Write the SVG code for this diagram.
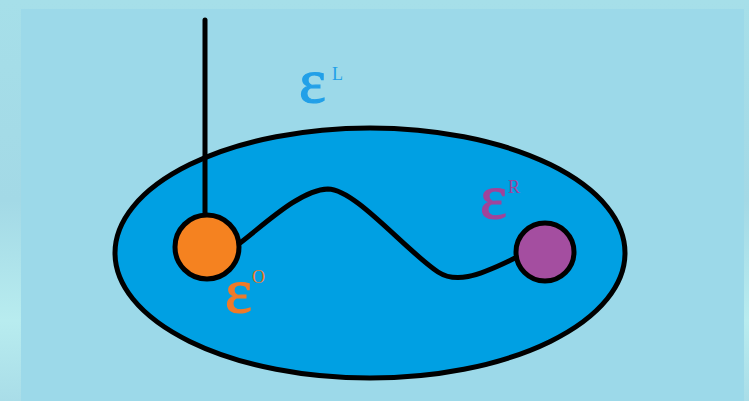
<svg xmlns="http://www.w3.org/2000/svg" width="749" height="401" viewBox="0 0 749 401">
<defs>
<style>
.eps{font-family:"Liberation Serif","Times New Roman",serif;font-size:64px;stroke-width:1.2}
.sup{font-family:"Liberation Serif","Times New Roman",serif;font-size:18px}
.ln{fill:none;stroke:#000;stroke-width:5;stroke-linecap:round;stroke-linejoin:round}
</style>
<linearGradient id="bg" x1="0" y1="0" x2="0" y2="1">
<stop offset="0" stop-color="#a6dfe9"/>
<stop offset="0.5" stop-color="#a3d9e6"/>
<stop offset="0.8" stop-color="#b8ecef"/>
<stop offset="1" stop-color="#a9dde8"/>
</linearGradient>
</defs>
<rect x="0" y="0" width="749" height="401" fill="url(#bg)"/>
<rect x="21" y="9" width="723" height="392" fill="#9cd9e9"/>
<g id="container">
<ellipse cx="370" cy="253" rx="255" ry="125" fill="#00a0e3" stroke="#000" stroke-width="5"/>
<text x="299" y="102" class="eps" fill="#22a0e8" stroke="#22a0e8">ε</text>
<text x="332" y="80" class="sup" fill="#22a0e8">L</text>
</g>
<g id="connectors">
<line class="ln" x1="205" y1="20" x2="205" y2="214"/>
<path class="ln" d="M240,243 C265,224 300,190 328,189 C355,189 405,250 438,272 C455,283 475,278 517,257"/>
</g>
<g id="nodeO">
<circle cx="207" cy="247" r="32" fill="#f58220" stroke="#000" stroke-width="5"/>
<text x="225" y="312" class="eps" fill="#f07a28" stroke="#f07a28">ε</text>
<text x="252" y="283" class="sup" fill="#f07a28" font-size="21">O</text>
</g>
<g id="nodeR">
<circle cx="545" cy="252" r="29" fill="#a44ea0" stroke="#000" stroke-width="5"/>
<text x="480" y="218" class="eps" fill="#a0449a" stroke="#a0449a">ε</text>
<text x="508" y="193" class="sup" fill="#a0449a">R</text>
</g>
</svg>
